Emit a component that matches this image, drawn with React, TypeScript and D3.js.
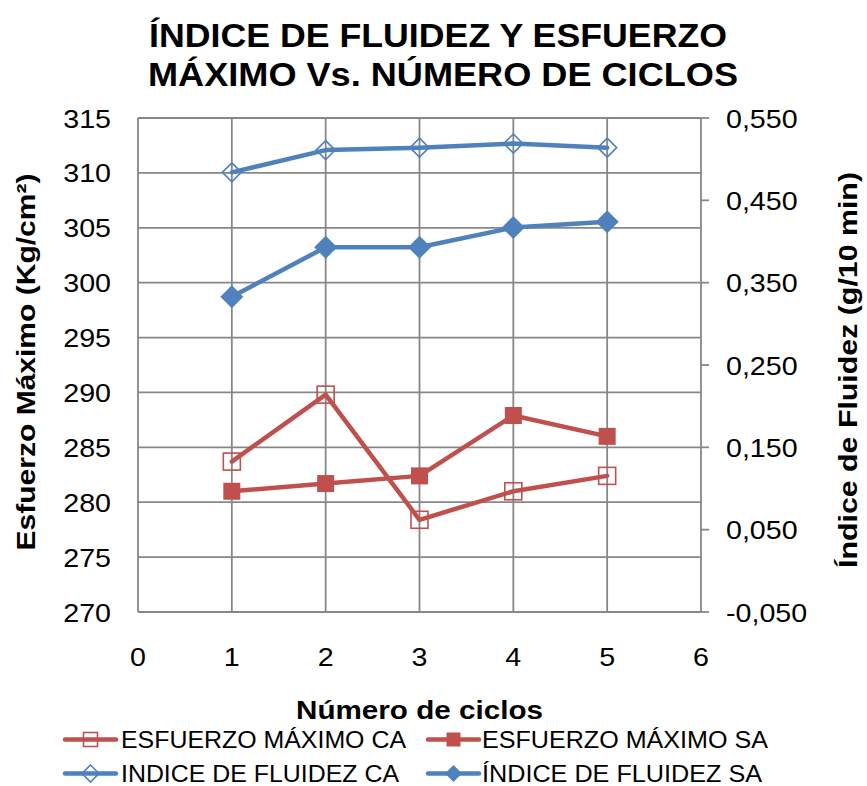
import React from "react";
import * as d3 from "d3";

const cycles = [1, 2, 3, 4, 5];
const esfuerzoCA = [283.7, 289.8, 278.4, 281.0, 282.4];
const esfuerzoSA = [281.0, 281.7, 282.4, 287.9, 286.0];
const fluidezCA = [0.484, 0.511, 0.514, 0.519, 0.514];
const fluidezSA = [0.333, 0.393, 0.393, 0.417, 0.424];

const xTicks = [0, 1, 2, 3, 4, 5, 6];
const leftTicks = [270, 275, 280, 285, 290, 295, 300, 305, 310, 315];
const rightTicks = [-0.05, 0.05, 0.15, 0.25, 0.35, 0.45, 0.55];

const titleLines = ["ÍNDICE DE FLUIDEZ Y ESFUERZO", "MÁXIMO Vs. NÚMERO DE CICLOS"];
const xTitle = "Número de ciclos";
const yLeftTitle = "Esfuerzo Máximo (Kg/cm²)";
const yRightTitle = "Índice de Fluidez (g/10 min)";
const legendLabels = [
  "ESFUERZO MÁXIMO CA",
  "ESFUERZO MÁXIMO SA",
  "INDICE DE FLUIDEZ CA",
  "ÍNDICE DE FLUIDEZ SA",
];

const RED = "#C0504D";
const BLUE = "#4F81BD";
const GRID = "#878787";
const FONT = "'Liberation Sans', Arial, sans-serif";

const L = 138, R = 701, T = 118, B = 612;

const x = d3.scaleLinear().domain([0, 6]).range([L, R]);
const yL = d3.scaleLinear().domain([270, 315]).range([B, T]);
const yR = d3.scaleLinear().domain([-0.05, 0.55]).range([B, T]);

const fmtR = (v: number) => d3.format(".3f")(v).replace(".", ",").replace("−", "-");

type MarkerKind = "openSquare" | "square" | "openDiamond" | "diamond";

function Marker({ kind, cx, cy, size }: { kind: MarkerKind; cx: number; cy: number; size?: number }) {
  if (kind === "openSquare" || kind === "square") {
    const s = size ?? 17;
    return (
      <rect
        x={cx - s / 2}
        y={cy - s / 2}
        width={s}
        height={s}
        fill={kind === "square" ? RED : "none"}
        stroke={RED}
        strokeWidth={kind === "square" ? 0 : 1.6}
      />
    );
  }
  const h = size ?? (kind === "diamond" ? 11.5 : 9.5);
  const d = `M${cx},${cy - h}L${cx + h},${cy}L${cx},${cy + h}L${cx - h},${cy}Z`;
  return (
    <path
      d={d}
      fill={kind === "diamond" ? BLUE : "none"}
      stroke={BLUE}
      strokeWidth={kind === "diamond" ? 0 : 1.6}
    />
  );
}

const series = [
  { values: esfuerzoCA, scale: yL, color: RED, marker: "openSquare" as MarkerKind },
  { values: esfuerzoSA, scale: yL, color: RED, marker: "square" as MarkerKind },
  { values: fluidezCA, scale: yR, color: BLUE, marker: "openDiamond" as MarkerKind },
  { values: fluidezSA, scale: yR, color: BLUE, marker: "diamond" as MarkerKind },
];

export default function App() {
  const line = (vals: number[], sc: d3.ScaleLinear<number, number>) =>
    d3
      .line<number>()
      .x((_, i) => x(cycles[i]))
      .y((v) => sc(v))(vals) as string;

  const legendPos = [
    { lx: 65, tx: 121, ty: 748, w: 285 },
    { lx: 428, tx: 482, ty: 748, w: 286 },
    { lx: 65, tx: 121, ty: 782, w: 278 },
    { lx: 428, tx: 482, ty: 782, w: 280 },
  ];

  return (
    <svg width={867} height={786} style={{ position: "absolute", left: 0, top: 0, background: "#fff" }} fontFamily={FONT}>
      <rect width={867} height={786} fill="#fff" />
      {/* title */}
      <text x={438} y={47} textAnchor="middle" fontSize={33} fontWeight="bold" textLength={578} lengthAdjust="spacingAndGlyphs">
        {titleLines[0]}
      </text>
      <text x={443} y={86} textAnchor="middle" fontSize={33} fontWeight="bold" textLength={590} lengthAdjust="spacingAndGlyphs">
        {titleLines[1]}
      </text>

      {/* gridlines */}
      {leftTicks.map((t) => (
        <line key={"h" + t} x1={L} x2={R} y1={yL(t)} y2={yL(t)} stroke={GRID} strokeWidth={1.8} />
      ))}
      {xTicks.map((t) => (
        <line key={"v" + t} x1={x(t)} x2={x(t)} y1={T} y2={B} stroke={GRID} strokeWidth={1.8} />
      ))}
      {/* right axis ticks */}
      {rightTicks.map((t) => (
        <line key={"rt" + t} x1={R} x2={R + 8} y1={yR(t)} y2={yR(t)} stroke={GRID} strokeWidth={1.8} />
      ))}

      {/* left tick labels */}
      {leftTicks.map((t) => (
        <text
          key={"lt" + t}
          transform={`translate(${111},${yL(t) + 9.5}) scale(1.08,1)`}
          textAnchor="end"
          fontSize={26.5}
        >
          {t}
        </text>
      ))}
      {/* right tick labels */}
      {rightTicks.map((t) => (
        <text key={"rl" + t} transform={`translate(${726},${yR(t) + 9.5}) scale(1.08,1)`} fontSize={26.5}>
          {fmtR(t)}
        </text>
      ))}
      {/* x tick labels */}
      {xTicks.map((t) => (
        <text key={"xl" + t} transform={`translate(${x(t)},${666}) scale(1.08,1)`} textAnchor="middle" fontSize={26.5}>
          {t}
        </text>
      ))}

      {/* axis titles */}
      <text x={419.5} y={719} textAnchor="middle" fontSize={26} fontWeight="bold" textLength={247} lengthAdjust="spacingAndGlyphs">
        {xTitle}
      </text>
      <text
        transform={`translate(35,362) rotate(-90)`}
        textAnchor="middle"
        fontSize={26}
        fontWeight="bold"
        textLength={377}
        lengthAdjust="spacingAndGlyphs"
      >
        {yLeftTitle}
      </text>
      <text
        transform={`translate(857,370) rotate(-90)`}
        textAnchor="middle"
        fontSize={26}
        fontWeight="bold"
        textLength={396}
        lengthAdjust="spacingAndGlyphs"
      >
        {yRightTitle}
      </text>

      {/* series */}
      {series.map((s, si) => (
        <g key={"s" + si}>
          <path d={line(s.values, s.scale)} fill="none" stroke={s.color} strokeWidth={4.5} strokeLinejoin="round" strokeLinecap="round" />
          {s.values.map((v, i) => (
            <Marker key={i} kind={s.marker} cx={x(cycles[i])} cy={s.scale(v)} />
          ))}
        </g>
      ))}

      {/* legend */}
      {series.map((s, i) => {
        const p = legendPos[i];
        const cy = p.ty - 8.5;
        return (
          <g key={"lg" + i}>
            <line x1={p.lx} x2={p.lx + 51} y1={cy} y2={cy} stroke={s.color} strokeWidth={4.5} strokeLinecap="round" />
            <Marker
              kind={s.marker}
              cx={p.lx + 25.5}
              cy={cy}
              size={s.marker === "openSquare" || s.marker === "square" ? 14 : 8.5}
            />
            <text x={p.tx} y={p.ty} fontSize={23.5} textLength={p.w} lengthAdjust="spacingAndGlyphs">
              {legendLabels[i]}
            </text>
          </g>
        );
      })}
    </svg>
  );
}
